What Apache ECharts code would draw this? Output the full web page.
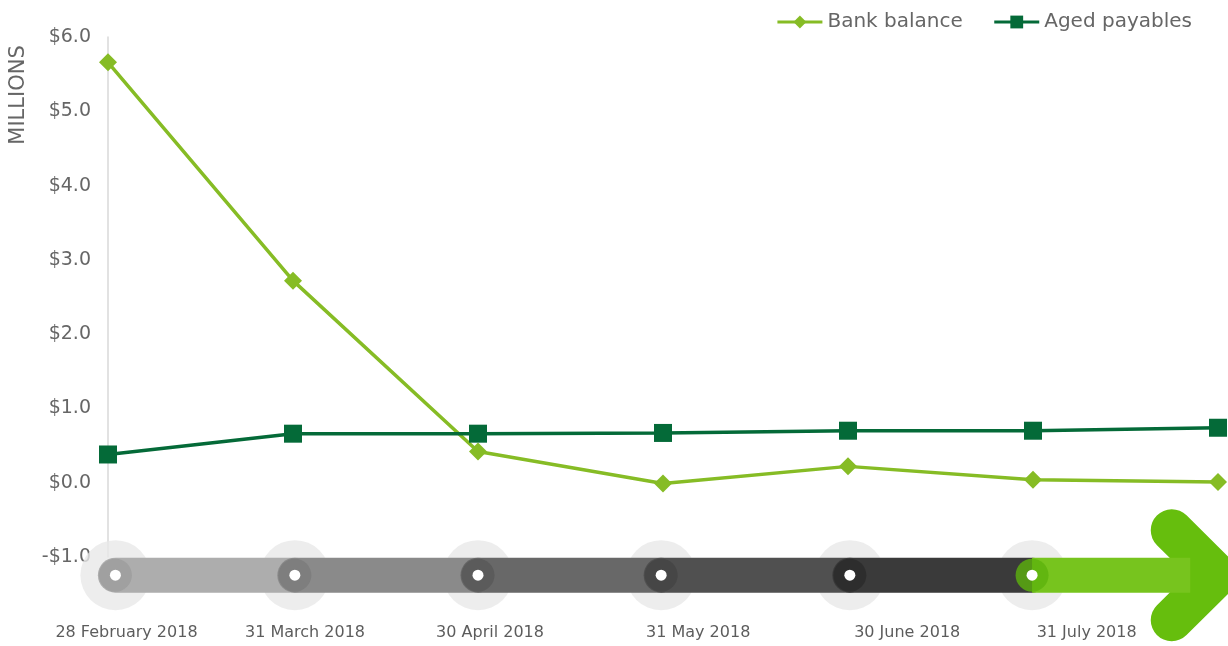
<!DOCTYPE html>
<html>
<head>
<meta charset="utf-8">
<script src="https://cdn.jsdelivr.net/npm/echarts@6/dist/echarts.min.js"></script>
<style>
html,body{margin:0;padding:0;background:#fff;}
#chart{width:1228px;height:646px;}
</style>
</head>
<body>
<div id="chart"></div>
<script>
// ---- data ----
const dateLabels = ['28 February 2018','31 March 2018','30 April 2018','31 May 2018','30 June 2018','31 July 2018'];
const categories = dateLabels.concat(['']);
const bankBalance = [5.66, 2.72, 0.42, -0.01, 0.22, 0.04, 0.01];
const agedPayables = [0.38, 0.66, 0.66, 0.67, 0.70, 0.70, 0.74];
const yTicks = [-1, 0, 1, 2, 3, 4, 5, 6];
// timeline (decorative) in units of the hidden value axis
const timelineNodes = [0.04, 1.01, 2.0, 2.99, 4.01, 4.995];
const timelineLabelX = [0.10, 1.065, 2.065, 3.19, 4.32, 5.29];
const timelineY = -1.245;
const arrowShaftEnd = 5.85;
const arrowHead = [[5.75, -0.64], [5.995, -1.245], [5.75, -1.85]];

const segColors = ['#adadad', '#8a8a8a', '#686868', '#505050', '#3a3a3a'];
const capColors = ['#9c9c9c', '#7b7b7b', '#575757', '#434343', '#2b2b2b', '#5db30c'];

const chart = echarts.init(document.getElementById('chart'));
const FONT = '"DejaVu Sans"';

const series = [];
// big light circles
series.push({
  type: 'scatter', xAxisIndex: 1, yAxisIndex: 0, silent: true, clip: false,
  symbol: 'circle', symbolSize: 70, itemStyle: { color: '#e8e8e8' },
  data: timelineNodes.map(x => [x, timelineY]), z: 1
});
// gray segments
for (let i = 0; i < timelineNodes.length - 1; i++) {
  series.push({
    type: 'line', xAxisIndex: 1, yAxisIndex: 0, silent: true, clip: false,
    showSymbol: false, symbol: 'none',
    lineStyle: { width: 35, color: segColors[i], cap: 'round' },
    data: [[timelineNodes[i], timelineY], [timelineNodes[i + 1], timelineY]], z: 2
  });
}
// arrow head
series.push({
  type: 'line', xAxisIndex: 1, yAxisIndex: 0, silent: true, clip: false,
  showSymbol: false, symbol: 'none',
  lineStyle: { width: 42, color: '#66be0d', cap: 'round', join: 'round' },
  data: arrowHead, z: 2
});
// green shaft
series.push({
  type: 'line', xAxisIndex: 1, yAxisIndex: 0, silent: true, clip: false,
  showSymbol: false, symbol: 'none',
  lineStyle: { width: 35, color: '#77c41e', cap: 'butt' },
  data: [[timelineNodes[5], timelineY], [arrowShaftEnd, timelineY]], z: 2
});
// caps
series.push({
  type: 'scatter', xAxisIndex: 1, yAxisIndex: 0, silent: true, clip: false,
  symbol: 'circle', symbolSize: 33,
  data: timelineNodes.map((x, i) => ({ value: [x, timelineY], itemStyle: { color: capColors[i] } })), z: 3
});
// white dots
series.push({
  type: 'scatter', xAxisIndex: 1, yAxisIndex: 0, silent: true, clip: false,
  symbol: 'circle', symbolSize: 11, itemStyle: { color: '#ffffff', opacity: 1 },
  data: timelineNodes.map(x => [x, timelineY]), z: 4
});
// date labels
series.push({
  type: 'scatter', xAxisIndex: 1, yAxisIndex: 0, silent: true, clip: false,
  symbolSize: 1, itemStyle: { color: 'rgba(0,0,0,0)' },
  label: { show: true, position: 'inside', offset: [0, 58], formatter: '{b}',
           color: '#333', fontSize: 16, fontFamily: FONT },
  data: timelineLabelX.map((x, i) => ({ name: dateLabels[i], value: [x, timelineY] })), z: 4
});
// main series
series.push({
  name: 'Bank balance', type: 'line', xAxisIndex: 0, yAxisIndex: 0,
  symbol: 'diamond', symbolSize: 18, showAllSymbol: true,
  lineStyle: { width: 3.5, color: '#86bc25' }, itemStyle: { color: '#86bc25' },
  data: bankBalance, z: 5
});
series.push({
  name: 'Aged payables', type: 'line', xAxisIndex: 0, yAxisIndex: 0,
  symbol: 'rect', symbolSize: 18, showAllSymbol: true,
  lineStyle: { width: 3.5, color: '#046a38' }, itemStyle: { color: '#046a38' },
  data: agedPayables, z: 6
});

chart.setOption({
  animation: false,
  textStyle: { fontFamily: FONT },
  legend: {
    right: 31, top: 7, itemWidth: 45, itemHeight: 16, itemGap: 30,
    lineStyle: { width: 3 },
    textStyle: { color: '#666', fontSize: 20, fontFamily: FONT },
    data: ['Bank balance', 'Aged payables']
  },
  grid: { left: 108, right: 10, top: 37, bottom: 89, containLabel: false },
  xAxis: [
    { type: 'category', data: categories, boundaryGap: false,
      axisLine: { show: false }, axisTick: { show: false }, axisLabel: { show: false } },
    { type: 'value', min: 0, max: 6, show: false }
  ],
  yAxis: {
    type: 'value', min: yTicks[0], max: yTicks[yTicks.length - 1], interval: 1,
    axisLine: { show: true, onZero: false, lineStyle: { color: '#d9d9d9', width: 1.5 } },
    axisTick: { show: false }, splitLine: { show: false },
    axisLabel: { margin: 17, color: '#666', fontSize: 19, fontFamily: FONT,
      formatter: v => (v < 0 ? '-$' : '$') + Math.abs(v).toFixed(1) }
  },
  graphic: [{
    type: 'text', x: 19, y: 95, rotation: Math.PI / 2,
    style: { text: 'MILLIONS', fill: '#666', fontSize: 21, fontFamily: FONT,
             align: 'center', verticalAlign: 'middle' }
  }],
  series: series
});
</script>
</body>
</html>
